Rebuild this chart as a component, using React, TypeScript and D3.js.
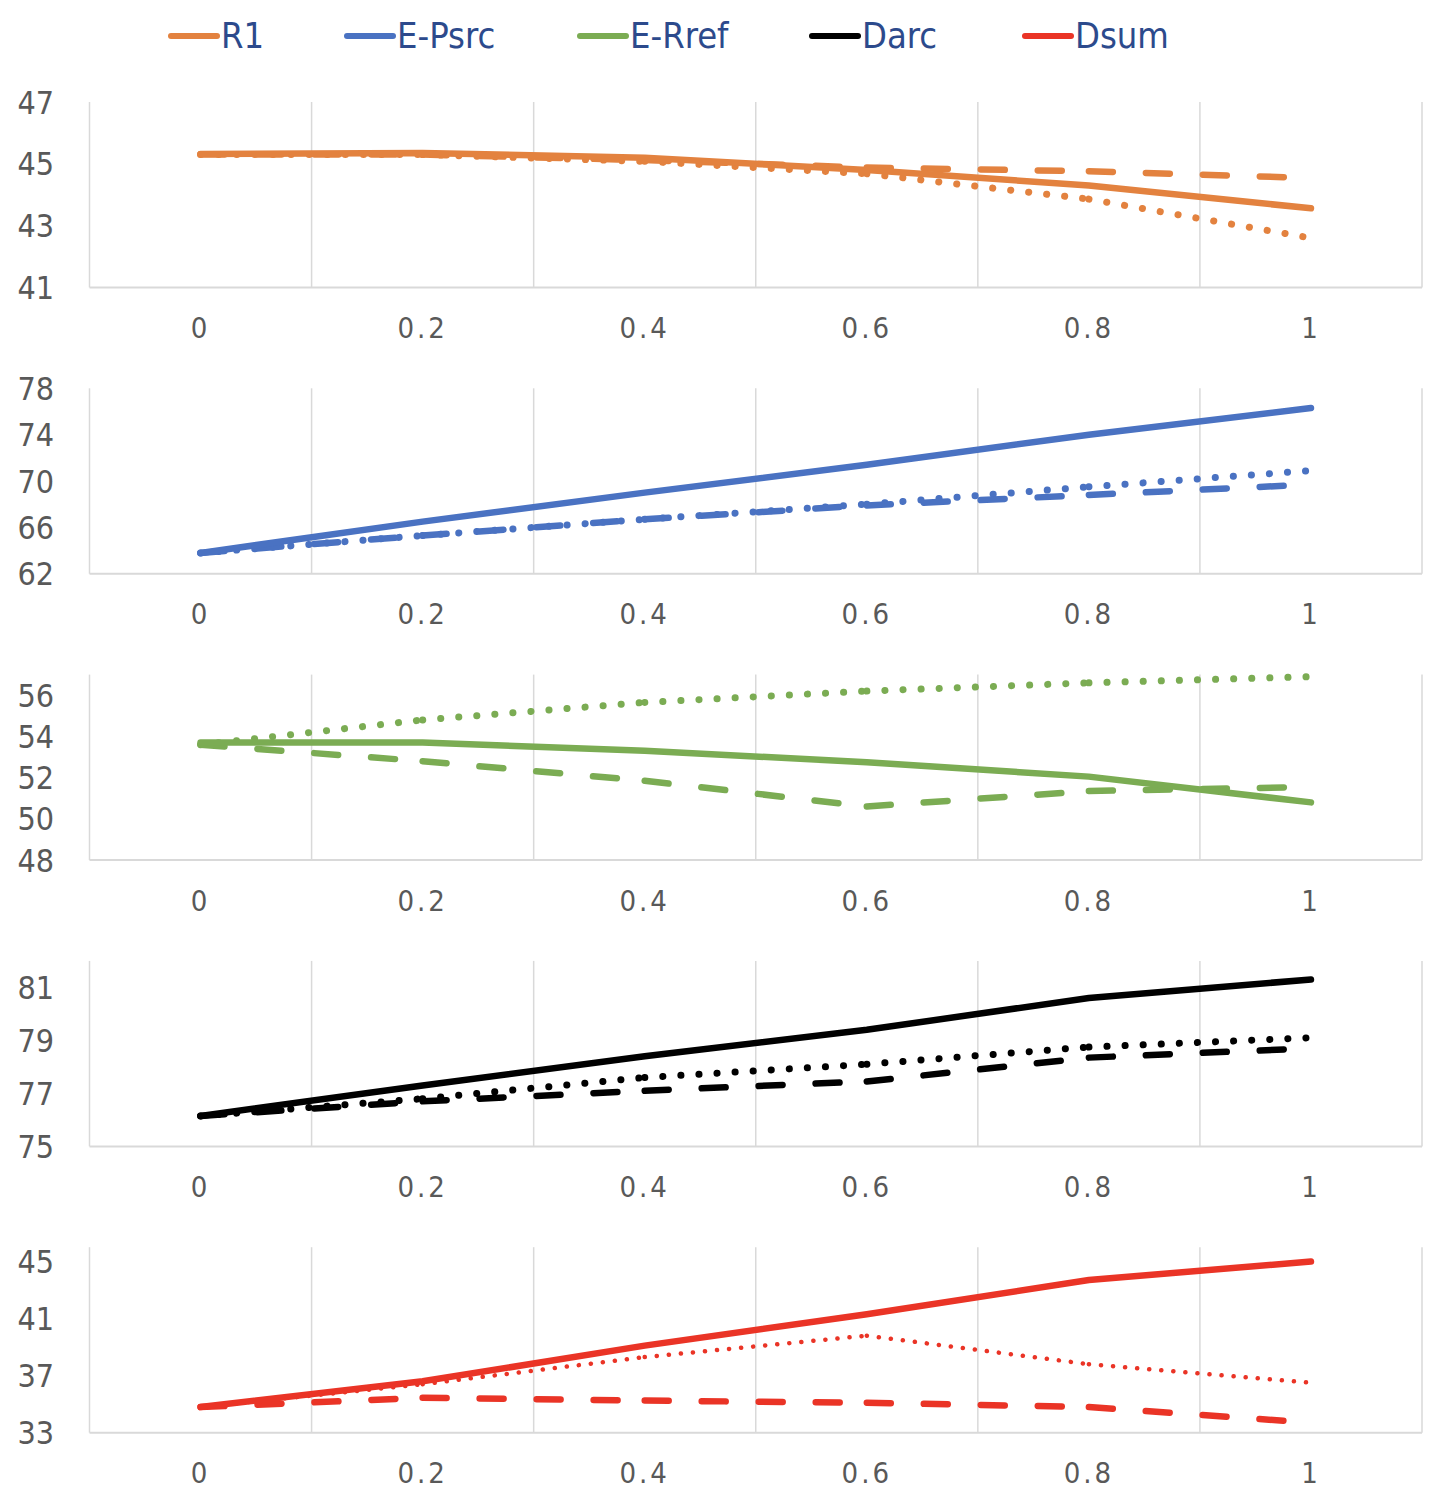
import React from "react";
import * as d3 from "d3";

// x categories (mixing weight) shared by every panel
const xLabels = ["0", "0.2", "0.4", "0.6", "0.8", "1"];

const metrics = ["R1", "E-Psrc", "E-Rref", "Darc", "Dsum"];
const metricColors = ["#E3823F", "#4A72C2", "#7BAC53", "#000000", "#EA3426"];

// R1
const r1Solid = [45.32, 45.35, 45.2, 44.8, 44.3, 43.56];
const r1Dashed = [45.3, 45.3, 45.12, 44.88, 44.76, 44.54];
const r1Dotted = [45.3, 45.3, 45.08, 44.68, 43.86, 42.6];

// E-Psrc
const psrcSolid = [63.8, 66.5, 69.0, 71.4, 74.0, 76.3];
const psrcDashed = [63.8, 65.3, 66.7, 67.9, 68.8, 69.7];
const psrcDotted = [63.8, 65.3, 66.7, 68.0, 69.5, 70.9];

// E-Rref
const rrefSolid = [53.7, 53.7, 53.3, 52.75, 52.05, 50.8];
const rrefDashed = [53.6, 52.8, 51.85, 50.6, 51.35, 51.55];
const rrefDotted = [53.6, 54.8, 55.65, 56.2, 56.6, 56.9];

// Darc
const darcSolid = [76.15, 77.3, 78.4, 79.4, 80.6, 81.3];
const darcDashed = [76.15, 76.7, 77.1, 77.45, 78.35, 78.7];
const darcDotted = [76.15, 76.8, 77.6, 78.1, 78.75, 79.1];

// Dsum
const dsumSolid = [34.8, 36.6, 39.1, 41.3, 43.7, 45.0];
const dsumDashed = [34.8, 35.45, 35.25, 35.1, 34.8, 33.7];
const dsumDotted = [34.8, 36.4, 38.3, 39.8, 37.8, 36.5];

// y axis ranges and ticks per panel
const yDomains: [number, number][] = [
  [41, 47],
  [62, 78],
  [48, 57],
  [75, 82],
  [33, 46],
];
const yTicks = [
  [41, 43, 45, 47],
  [62, 66, 70, 74, 78],
  [48, 50, 52, 54, 56],
  [75, 77, 79, 81],
  [33, 37, 41, 45],
];

const panelSeries = [
  [r1Solid, r1Dashed, r1Dotted],
  [psrcSolid, psrcDashed, psrcDotted],
  [rrefSolid, rrefDashed, rrefDotted],
  [darcSolid, darcDashed, darcDotted],
  [dsumSolid, dsumDashed, dsumDotted],
];

const W = 1434;
const H = 1502;
const plotLeft = 89.5;
const plotRight = 1422;
const firstTop = 102;
const panelStep = 286.3;
const plotH = 185.5;

const legendX = [171, 347, 580, 812, 1025];

const FONT = "'Liberation Sans Narrow', 'DejaVu Sans Condensed', 'Open Sans', sans-serif";

const x = d3.scaleBand<string>().domain(xLabels).range([plotLeft, plotRight]);

const App: React.FC = () => {
  return (
    <div style={{ position: "absolute", left: 0, top: 0 }}>
      <svg width={W} height={H} viewBox={`0 0 ${W} ${H}`} style={{ display: "block", background: "#fff" }}>
        {/* legend */}
        {metrics.map((m, i) => (
          <g key={m} transform={`translate(${legendX[i]}, 36)`}>
            <line x1={0} x2={46} y1={0} y2={0} stroke={metricColors[i]} strokeWidth={6} strokeLinecap="round" />
            <text x={50} y={12} fontSize={36} fill="#2C4A8C" fontFamily={FONT}>
              {m}
            </text>
          </g>
        ))}

        {panelSeries.map((series, p) => {
          const top = firstTop + p * panelStep;
          const bottom = top + plotH;
          const y = d3.scaleLinear().domain(yDomains[p]).range([bottom, top]);
          const color = metricColors[p];
          const cx = (i: number) => (x(xLabels[i]) ?? 0) + x.bandwidth() / 2;
          const line = d3
            .line<number>()
            .x((_, i) => cx(i))
            .y((d) => y(d));
          // Excel restarts the dash pattern on every segment
          const seg = (vals: number[], i: number) =>
            `M${cx(i)},${y(vals[i])}L${cx(i + 1)},${y(vals[i + 1])}`;
          const dotW = p === 4 ? 4.5 : 7;
          const dotGap = p === 4 ? 12 : 18;
          return (
            <g key={p}>
              {/* category separators */}
              {d3.range(xLabels.length + 1).map((k) => {
                const gx = plotLeft + k * x.bandwidth();
                return <line key={k} x1={gx} x2={gx} y1={top} y2={bottom} stroke="#D9D9D9" strokeWidth={1.5} />;
              })}
              <line x1={plotLeft} x2={plotRight} y1={bottom} y2={bottom} stroke="#D9D9D9" strokeWidth={2} />

              {yTicks[p].map((t) => (
                <text
                  key={t}
                  x={54}
                  y={y(t)}
                  dy="0.36em"
                  textAnchor="end"
                  fontSize={32}
                  fill="#595959"
                  fontFamily={FONT}
                >
                  {t}
                </text>
              ))}
              {xLabels.map((l, i) => (
                <text
                  key={l}
                  x={cx(i)}
                  y={bottom + 40}
                  dy="0.36em"
                  textAnchor="middle"
                  fontSize={29}
                  letterSpacing={3}
                  fill="#595959"
                  fontFamily={FONT}
                >
                  {l}
                </text>
              ))}

              {/* dotted */}
              {d3.range(xLabels.length - 1).map((i) => (
                <path
                  key={"dt" + i}
                  d={seg(series[2], i)}
                  fill="none"
                  stroke={color}
                  strokeWidth={dotW}
                  strokeLinecap="round"
                  strokeDasharray={`0.1 ${dotGap}`}
                />
              ))}
              {/* dashed */}
              {d3.range(xLabels.length - 1).map((i) => (
                <path
                  key={"ds" + i}
                  d={seg(series[1], i)}
                  fill="none"
                  stroke={color}
                  strokeWidth={6.5}
                  strokeLinecap="round"
                  strokeDasharray="24 33"
                />
              ))}
              {/* solid */}
              <path
                d={line(series[0]) ?? ""}
                fill="none"
                stroke={color}
                strokeWidth={6.5}
                strokeLinecap="round"
                strokeLinejoin="round"
              />
            </g>
          );
        })}
      </svg>
    </div>
  );
};

export default App;
